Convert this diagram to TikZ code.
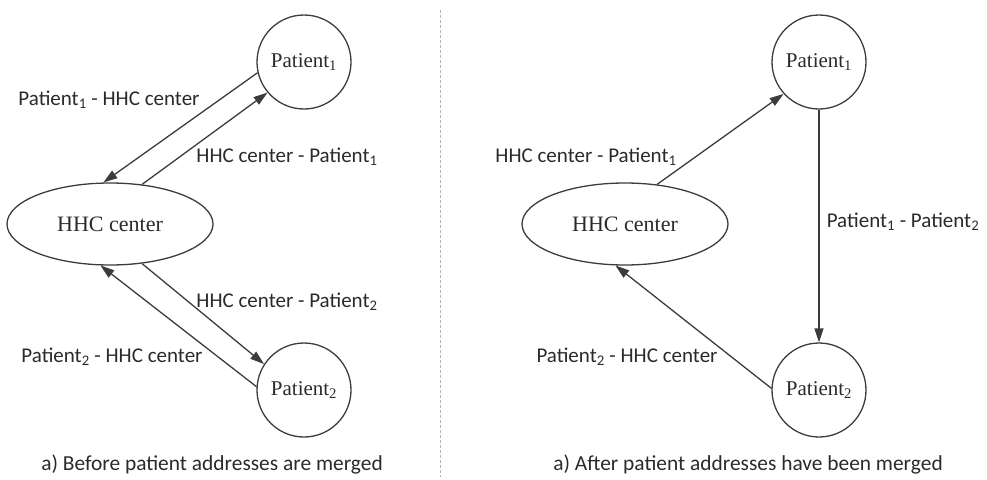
\documentclass[tikz,border=0pt]{standalone}
\usepackage{fontspec}
\setmainfont{Liberation Serif}
\newfontfamily\labfont{Carlito}
\usetikzlibrary{shapes.geometric,arrows.meta}
\definecolor{ln}{HTML}{3C3C3C}
\definecolor{tx}{HTML}{2A2A2A}
\tikzset{
  pnode/.style={circle,draw=ln,line width=1.3pt,minimum size=94pt,inner sep=0pt,font=\fontsize{21}{23}\selectfont,text=tx},
  hnode/.style={ellipse,draw=ln,line width=1.3pt,minimum width=206pt,minimum height=82pt,inner sep=0pt,font=\fontsize{22}{24}\selectfont,text=tx},
  conn/.style={draw=ln,line width=1.3pt,-{Triangle[length=14pt,width=9pt]}},
  lab/.style={font=\labfont\fontsize{21}{23}\selectfont,text=tx,inner sep=0pt},
  captext/.style={font=\labfont\fontsize{21.4}{23}\selectfont,text=tx,inner sep=0pt}
}
\begin{document}
\begin{tikzpicture}[x=1pt,y=-1pt]
\useasboundingbox (0,0) rectangle (987,479);
% left panel
\node[pnode] (lp1) at (304,62) {Patient\textsubscript{1}};
\node[hnode] (lh) at (110,224) {HHC center};
\node[pnode] (lp2) at (304,390) {Patient\textsubscript{2}};
\draw[conn] (lp1.193) -- (lh.99);
\draw[conn] (lh.51) -- (lp1.220);
\draw[conn] (lh.309) -- (lp2.147);
\draw[conn] (lp2.176) -- (lh.257);
\node[lab] (l1) at (109,100) {Patient\textsubscript{1} - HHC center};
\node[lab] (l2) at (287,157) {HHC center - Patient\textsubscript{1}};
\node[lab] (l3) at (287,302) {HHC center - Patient\textsubscript{2}};
\node[lab] (l4) at (112,357) {Patient\textsubscript{2} - HHC center};
\node[captext] (c1) at (212,465) {a) Before patient addresses are merged};
% divider
\coordinate (d1) at (440,10);
\coordinate (d2) at (440,477);
\draw[draw=black!30,line width=0.8pt,dash pattern=on 3pt off 2pt] (d1) -- (d2);
% right panel
\node[pnode] (rp1) at (819,62) {Patient\textsubscript{1}};
\node[hnode] (rh) at (625,224) {HHC center};
\node[pnode] (rp2) at (819,390) {Patient\textsubscript{2}};
\draw[conn] (rh.51) -- (rp1.222);
\draw[conn] (rp1.south) -- (rp2.north);
\draw[conn] (rp2.178) -- (rh.257);
\node[lab] (r1) at (586,157) {HHC center - Patient\textsubscript{1}};
\node[lab] (r2) at (903,222) {Patient\textsubscript{1} - Patient\textsubscript{2}};
\node[lab] (r3) at (627,357) {Patient\textsubscript{2} - HHC center};
\node[captext] (c2) at (748,465) {a) After patient addresses have been merged};
\end{tikzpicture}
\end{document}
